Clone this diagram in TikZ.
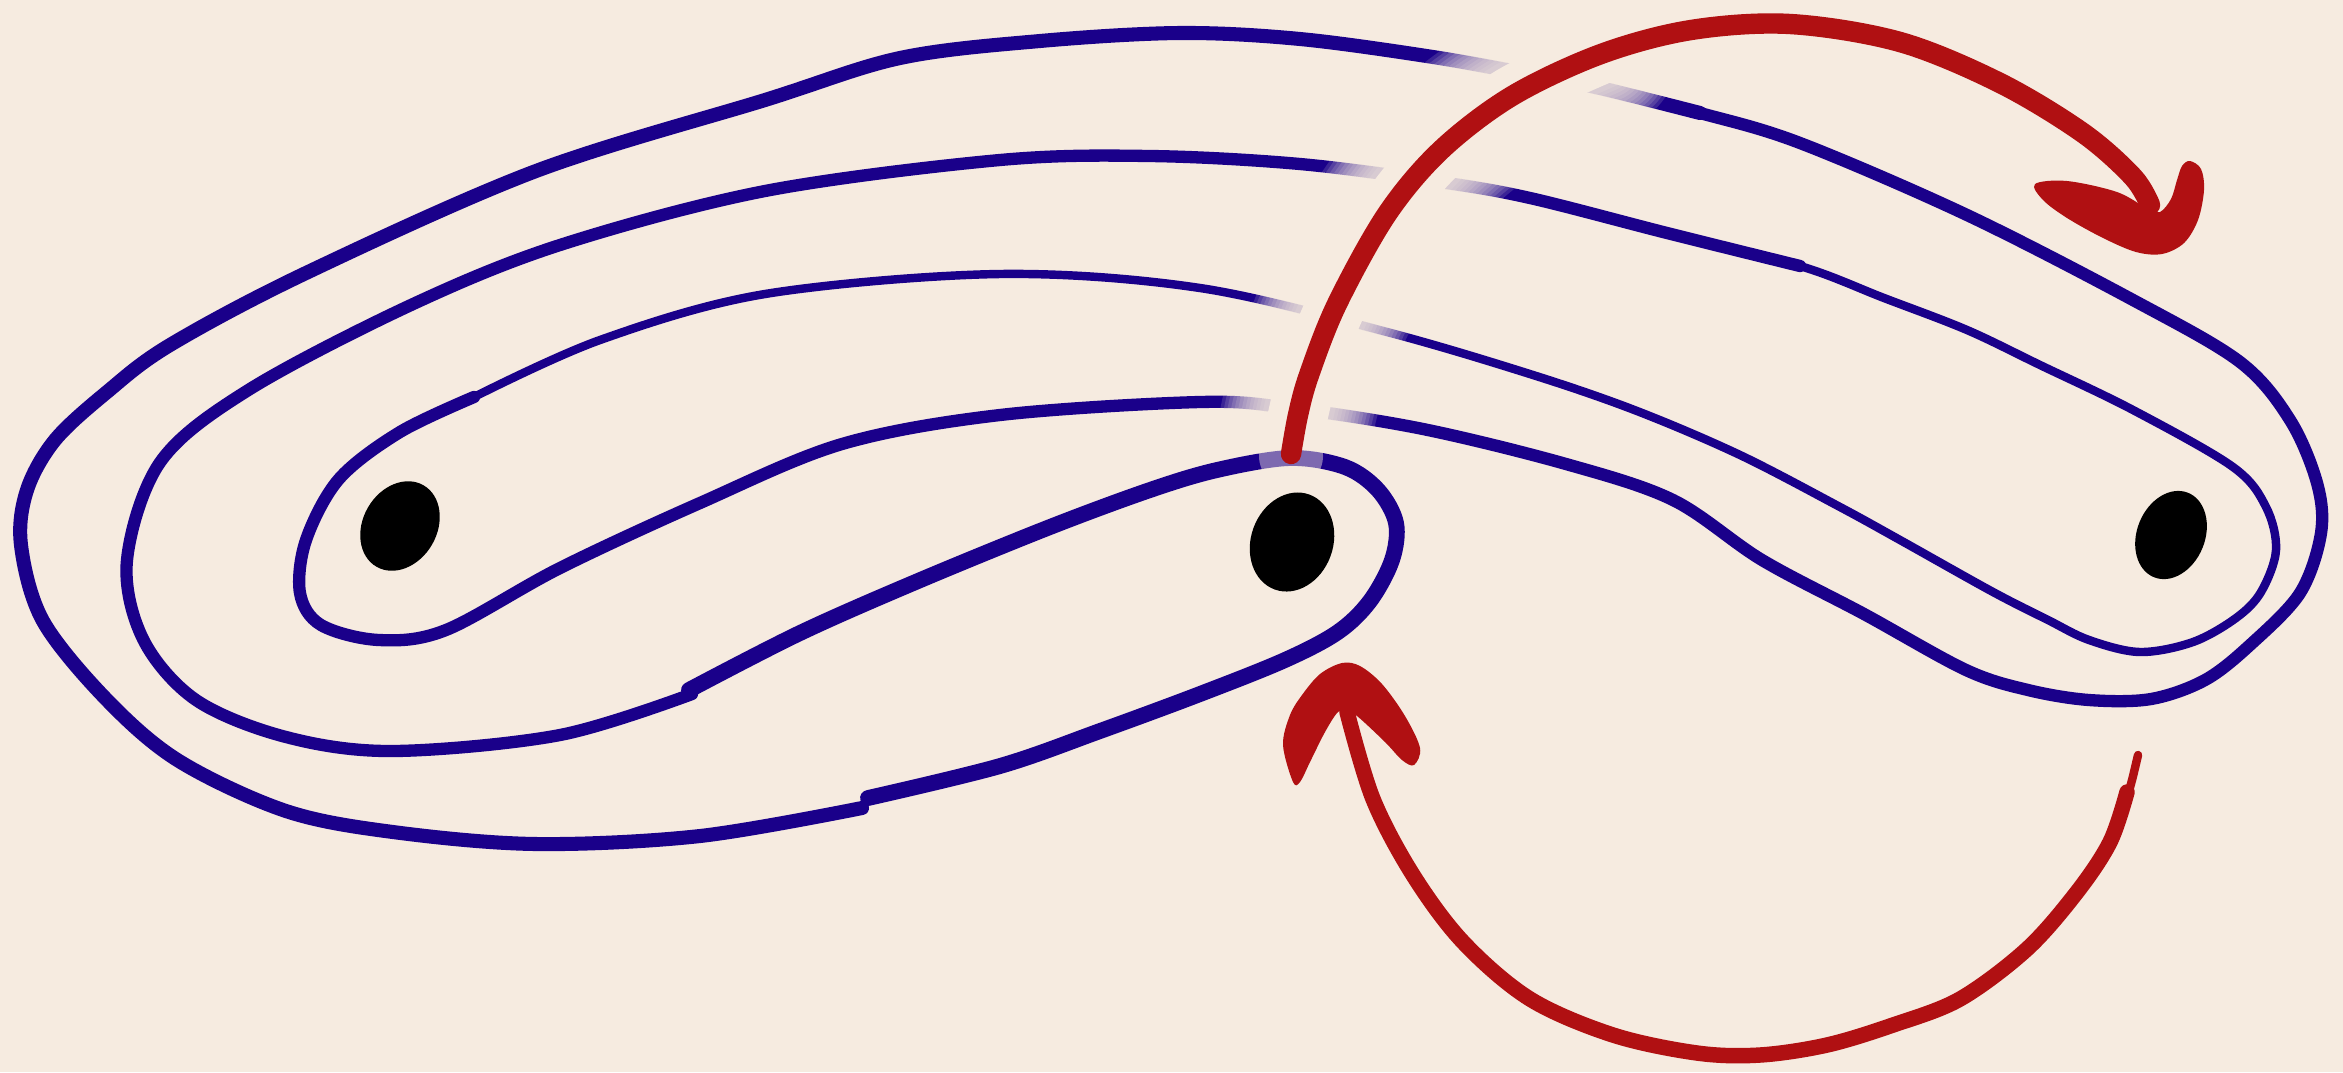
\documentclass[tikz,border=0pt]{standalone}
\usepackage{xcolor}
\usepackage{tikz}
\usetikzlibrary{shapes.geometric}

\definecolor{paperbg}{RGB}{246,235,224}
\definecolor{braidblue}{RGB}{26,0,138}
\definecolor{swapred}{RGB}{176,16,18}

% the halo path is used more than once
\newcommand{\upperhalo}{plot[smooth,tension=.55] coordinates {(1291,454) (1298,415) (1309,375) (1337,304) (1387,214) (1441,150) (1512,96) (1601,54)}}

\begin{document}
\begin{tikzpicture}[x=0.01cm,y=-0.01cm,
    braid/.style={draw=braidblue,line cap=round,line join=round},
    swaparrow/.style={draw=swapred,line cap=round,line join=round},
    punct/.style={ellipse,fill=black,inner sep=0pt}]
  \useasboundingbox (0,0) rectangle (2343,1072);
  \fill[paperbg] (0,0) rectangle (2343,1072);

  % strand
  \draw[braid,line width=3.5pt] plot[smooth,tension=.55] coordinates {(474,397) (400,432) (339,479) (306,540) (300,593) (321,625) (379,640) (446,630) (560,568) (700,503) (842,444) (1000,415) (1200,402) (1290,408) (1423,429) (1566,464) (1673,500) (1762,560) (1864,614) (1966,670) (2028,690) (2089,700) (2151,699) (2205,680) (2250,645) (2300,593) (2321,533) (2317,483) (2290,420) (2240,362) (2133,300) (1967,215) (1800,143) (1700,113) (1600,88)};
  \draw[braid,line width=4pt] plot[smooth,tension=.55] coordinates {(1700,113) (1600,88) (1533,75) (1433,57) (1300,39) (1180,33) (1040,41) (900,58) (765,100) (536,171) (306,273) (170,345) (107,392) (55,440) (27,490) (21,545) (43,621) (107,700) (179,761) (286,811) (393,832) (536,844) (700,836) (862,808)};
  \draw[braid,line width=4.5pt] plot[smooth,tension=.55] coordinates {(868,798) (1000,766) (1100,731) (1200,694) (1285,660) (1338,632) (1370,601) (1392,560) (1396,523) (1378,490) (1345,467) (1290,458) (1217,470) (1150,490) (1050,527) (918,581) (800,633) (689,690)};
  \draw[braid,line width=2.4pt] plot[smooth,tension=.55] coordinates {(1667,233) (1800,266) (1884,298) (1967,330) (2040,365) (2133,410) (2233,467) (2266,507) (2276,550) (2261,592) (2236,618) (2193,642) (2140,652) (2089,640) (2048,620) (1993,592) (1900,540) (1840,507) (1740,455) (1637,411) (1533,375) (1387,332) (1200,288) (1000,274) (765,294) (600,340) (474,397)};
  \draw[braid,line width=3.5pt] plot[smooth,tension=.55] coordinates {(692,694) (560,735) (393,751) (286,737) (196,700) (143,639) (127,560) (161,461) (250,389) (411,305) (560,245) (765,191) (1000,160) (1150,156) (1300,164) (1440,182) (1530,198) (1667,233) (1800,266)};

  % gap under the upper arrow
  \begin{scope}
    \clip (1100,0) rectangle (1800,446);
    \foreach \w in {44,42,...,20}
      \draw[paperbg,line width=\w pt,opacity=.15,line cap=round] \upperhalo;
    \draw[paperbg,line width=17pt,line cap=round] \upperhalo;
  \end{scope}
  \fill[paperbg,opacity=.45] (1291,456) circle (32);

  % upper arrow
  \draw[swaparrow,line width=5.8pt] plot[smooth,tension=.55] coordinates {(1291,454) (1298,415) (1309,375) (1337,304) (1387,214) (1441,150) (1512,96) (1601,54) (1691,30) (1790,24) (1900,42) (2000,83) (2083,133) (2133,177) (2150,205)};
  \fill[swapred] plot[smooth cycle,tension=.55] coordinates {(2035,184) (2067,181) (2117,192) (2148,209) (2160,212) (2171,199) (2177,180) (2182,166) (2190,161) (2201,169) (2204,190) (2198,220) (2184,243) (2162,254) (2136,252) (2103,238) (2067,218) (2043,200)};

  % lower arrow
  \draw[swaparrow,line width=2.4pt] plot[smooth,tension=.55] coordinates {(2138,755) (2132,780) (2125,805)};
  \draw[swaparrow,line width=4.4pt] plot[smooth,tension=.55] coordinates {(2127,792) (2110,842) (2077,892) (2027,949) (1960,999) (1893,1025) (1827,1045) (1760,1055) (1697,1053) (1613,1035) (1530,999) (1463,942) (1413,875) (1373,799) (1347,712)};
  \fill[swapred] plot[smooth cycle,tension=.55] coordinates {(1293,782) (1283,745) (1290,715) (1302,695) (1320,674) (1342,663) (1360,666) (1382,684) (1405,716) (1420,748) (1414,765) (1402,760) (1385,742) (1357,716) (1347,712) (1338,712) (1325,732) (1310,762) (1300,782)};

  % punctures
  \node[punct,minimum width=0.74cm,minimum height=0.94cm,rotate=-30] (ptL) at (400,526) {};
  \node[punct,minimum width=0.82cm,minimum height=1.01cm,rotate=-20] (ptM) at (1292,542) {};
  \node[punct,minimum width=0.68cm,minimum height=0.91cm,rotate=-22] (ptR) at (2171,535) {};
\end{tikzpicture}
\end{document}
